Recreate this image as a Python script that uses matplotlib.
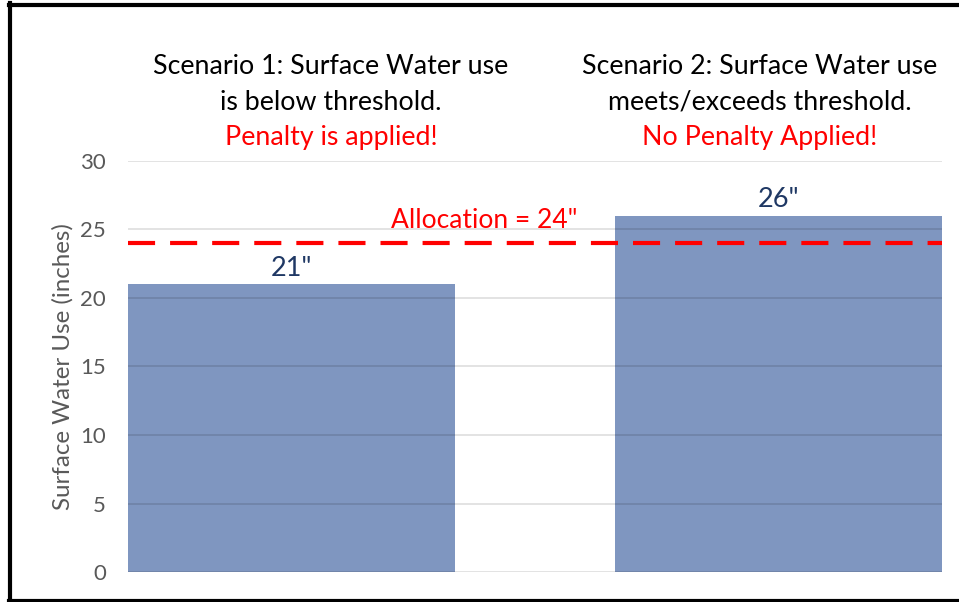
import matplotlib.pyplot as plt
from matplotlib.lines import Line2D

plt.rcParams['font.family'] = ['Lato', 'DejaVu Sans']

# values in inches
scenarios = ['Scenario 1', 'Scenario 2']
water_use = [21, 26]
value_labels = ['21"', '26"']
allocation = 24
title_lines = [['Scenario 1: Surface Water use', 'is below threshold.'],
               ['Scenario 2: Surface Water use', 'meets/exceeds threshold.']]
penalty_notes = ['Penalty is applied!', 'No Penalty Applied!']
y_ticks = [0, 5, 10, 15, 20, 25, 30]

bar_color = '#7F96C0'
text_grey = '#595959'
label_navy = '#1F3864'

fig = plt.figure(figsize=(9.59, 6.02), dpi=100)
ax = fig.add_axes([0.1335, 0.0498, 0.8488, 0.6828])

x = list(range(len(scenarios)))
width = 0.67
ax.bar(x, water_use, width=width, color=bar_color, zorder=1)

# gridlines sit on top of the bars, faint dark so they show on both
for t in y_ticks:
    ax.axhline(t, color='black', alpha=0.14, linewidth=1.1, zorder=2)

ax.axhline(allocation, color='#FF0000', linewidth=3, linestyle=(0, (6.5, 3.6)), zorder=3)
ax.text(0.396, allocation + 0.75, 'Allocation = %d"' % allocation, color='#FF0000',
        fontsize=19, ha='center', va='bottom')

for xi, v, lab in zip(x, water_use, value_labels):
    ax.text(xi, v + 0.25, lab, color=label_navy, fontsize=19.5, ha='center', va='bottom')

ax.set_xlim(-width / 2, 1 + width / 2)
ax.set_ylim(0, 30)
ax.set_yticks(y_ticks)
ax.set_xticks([])
ax.tick_params(axis='y', length=0, labelsize=16, labelcolor=text_grey, pad=16)
for s in ax.spines.values():
    s.set_visible(False)
ax.set_ylabel('Surface Water Use (inches)', fontsize=17.4, color=text_grey, labelpad=5)

# scenario headings above the plot
title_x = [331 / 959, 759.5 / 959]
for tx, lines, note in zip(title_x, title_lines, penalty_notes):
    fig.text(tx, 1 - 67 / 602, lines[0], ha='center', va='center', fontsize=19.3)
    fig.text(tx, 1 - 102 / 602, lines[1], ha='center', va='center', fontsize=19.3)
    fig.text(tx, 1 - 137 / 602, note, ha='center', va='center', fontsize=19.3,
             color='#FF0000')

# outer frame
lw = 3
fig.add_artist(Line2D([9 / 959, 1], [1 - 4.5 / 602, 1 - 4.5 / 602], color='black', linewidth=lw,
                      transform=fig.transFigure))
fig.add_artist(Line2D([9 / 959, 1], [1.5 / 602, 1.5 / 602], color='black', linewidth=lw,
                      transform=fig.transFigure))
fig.add_artist(Line2D([9.5 / 959, 9.5 / 959], [0, 1 - 3 / 602], color='black', linewidth=lw,
                      transform=fig.transFigure))

fig.savefig('out.png', dpi=100)
